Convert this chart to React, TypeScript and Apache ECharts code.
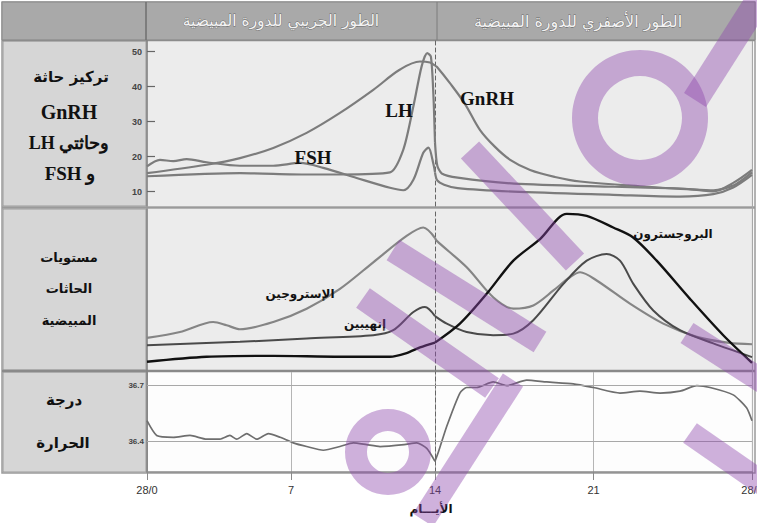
import React, { useEffect, useRef } from "react";
import * as echarts from "echarts";

type Pt = [number, number];

// ---- tick labels ----
const X_TICK_LABELS: Record<string, string> = { "0": "28/0", "7": "7", "14": "14", "21": "21", "28": "28/0" };
const HORMONE_TICKS = [10, 20, 30, 40, 50];
const TEMP_TICKS = [36.4, 36.7];

// ---- panel 1: GnRH, LH, FSH (follicular days 0-14, luteal days 14-28) ----
const GNRH_FOLLICULAR: Pt[] = [[0, 15.3], [2.9, 17.7], [4.52, 19.6], [6.14, 22.5], [7.76, 26.8], [9.38, 32.5], [11.0, 39.1], [12.3, 44.9], [13.27, 47.2], [13.76, 46.9], [14, 46.0]];
const GNRH_LUTEAL: Pt[] = [[14, 46.0], [14.08, 45.7], [14.66, 41.0], [15.32, 35.1], [15.99, 27.6], [16.65, 22.8], [17.32, 19.1], [18.2, 16.2], [19.3, 14.2], [20.41, 12.9], [23.35, 11.4], [25.56, 10.5], [26.28, 10.1], [27.17, 12.5], [28, 16.2]];
const LH_FOLLICULAR: Pt[] = [[0, 14.4], [4.52, 15.3], [7.76, 14.9], [9.38, 14.9], [11.81, 15.5], [12.46, 22.0], [12.95, 34.4], [13.35, 45.8], [13.62, 49.6], [13.8, 48.6], [13.92, 38.0], [14, 24.0]];
const LH_LUTEAL: Pt[] = [[14, 24.0], [14.1, 17.5], [14.3, 15.2], [15.0, 14.0], [17.5, 12.3], [21.9, 11.4], [24.8, 10.9], [26.3, 10.4], [27.2, 11.8], [28, 15.5]];
const FSH_FOLLICULAR: Pt[] = [[0, 17.2], [0.63, 19.1], [1.28, 18.7], [1.93, 19.3], [2.9, 18.4], [4.52, 17.4], [6.14, 17.4], [7.44, 18.2], [8.57, 16.8], [10.19, 13.9], [11.81, 11.1], [12.46, 10.4], [12.95, 13.4], [13.43, 21.1], [13.68, 22.6], [13.92, 18.0], [14, 15.5]];
const FSH_LUTEAL: Pt[] = [[14, 15.5], [14.1, 13.2], [14.4, 12.0], [15.0, 11.0], [17.46, 10.0], [21.87, 9.1], [24.82, 8.6], [26.29, 9.3], [27.17, 11.2], [28, 14.8]];

// ---- panel 2: ovarian hormones (relative levels 0-100) ----
const ESTROGEN_FOLLICULAR: Pt[] = [[0, 19.9], [1.6, 23.6], [3.22, 29.8], [3.87, 27.8], [4.52, 25.3], [6.14, 29.8], [7.76, 38.1], [9.38, 50.4], [11.0, 66.9], [12.62, 83.3], [13.43, 88.5], [14, 82.0]];
const ESTROGEN_LUTEAL: Pt[] = [[14, 82.0], [14.08, 80.2], [15.4, 63.8], [16.57, 45.2], [17.46, 38.1], [18.34, 40.1], [19.23, 49.4], [19.96, 57.6], [20.41, 60.7], [21.14, 55.6], [22.61, 41.2], [24.08, 28.8], [25.56, 20.6], [27.0, 16.8], [28, 16.0]];
const INHIBIN_FOLLICULAR: Pt[] = [[0, 15.4], [4.52, 17.5], [7.76, 19.6], [11.0, 21.6], [11.97, 24.7], [12.95, 36.0], [13.51, 39.1], [14, 33.5]];
const INHIBIN_LUTEAL: Pt[] = [[14, 33.5], [14.52, 28.8], [15.4, 23.6], [16.57, 21.6], [17.46, 22.6], [18.34, 30.9], [19.67, 53.5], [20.7, 67.9], [21.58, 72.0], [22.17, 67.9], [22.76, 53.5], [23.64, 37.0], [24.82, 24.7], [26.29, 16.5], [28, 8.0]];
const PROGESTERONE_FOLLICULAR: Pt[] = [[0, 5.1], [2.9, 8.2], [6.14, 8.8], [9.38, 8.2], [11.81, 8.2], [12.62, 10.5], [13.27, 14.0], [14, 17.0]];
const PROGESTERONE_LUTEAL: Pt[] = [[14, 17.0], [15.1, 28.8], [16.28, 47.3], [17.46, 67.9], [18.64, 81.3], [19.82, 97.0], [20.7, 95.7], [21.87, 88.5], [22.75, 82.3], [23.79, 67.9], [25.26, 44.2], [26.73, 21.6], [28, 4.5]];

// ---- panel 3: body temperature ----
const TEMP_FOLLICULAR: Pt[] = [[0, 36.51], [0.47, 36.43], [1.28, 36.42], [2.09, 36.43], [2.9, 36.41], [3.55, 36.41], [4.03, 36.43], [4.36, 36.41], [4.85, 36.44], [5.33, 36.41], [5.9, 36.44], [6.47, 36.42], [7.11, 36.39], [7.76, 36.37], [8.57, 36.35], [9.38, 36.37], [10.03, 36.39], [10.68, 36.38], [11.33, 36.37], [12.5, 36.38], [13.11, 36.39], [13.6, 36.36], [14, 36.29]];
const TEMP_LUTEAL: Pt[] = [[14, 36.29], [14.15, 36.34], [14.52, 36.48], [15.1, 36.66], [15.4, 36.69], [15.84, 36.69], [16.57, 36.72], [17.17, 36.7], [18.05, 36.73], [18.93, 36.72], [20.11, 36.71], [21, 36.69], [22.17, 36.66], [23.05, 36.67], [23.94, 36.66], [24.82, 36.67], [25.56, 36.7], [26.15, 36.69], [27.17, 36.65], [27.76, 36.58], [28, 36.51]];

const AR = "'DejaVu Sans', sans-serif";
const SERIF = "'Liberation Serif', 'DejaVu Serif', serif";
const SANS = "'Liberation Sans', Arial, sans-serif";

const X0 = 147, X14 = 435, X28 = 752;
const PANELS = [
  { top: 41, height: 165 },
  { top: 209, height: 161 },
  { top: 372, height: 100 },
];

function buildOption(): any {
  const grids: any[] = [];
  PANELS.forEach((p) => {
    grids.push({ left: X0, top: p.top, width: X14 - X0, height: p.height, show: false });
    grids.push({ left: X14, top: p.top, width: X28 - X14, height: p.height, show: false });
  });

  const xAxes: any[] = [];
  for (let i = 0; i < 6; i++) {
    const left = i % 2 === 0;
    const isTemp = i >= 4;
    xAxes.push({
      type: "value",
      gridIndex: i,
      min: left ? 0 : 14,
      max: left ? 14 : 28,
      interval: 7,
      axisLine: { show: isTemp, lineStyle: { color: "#8a8a8a", width: 1.5 } },
      axisTick: { show: isTemp, length: 8, lineStyle: { color: "#8a8a8a" } },
      axisLabel: {
        show: isTemp,
        margin: 12,
        fontSize: 11,
        fontFamily: SANS,
        color: "#333",
        showMinLabel: true,
        showMaxLabel: true,
        alignMinLabel: "center",
        alignMaxLabel: "center",
        hideOverlap: false,
        formatter: (v: number) => (left && v === 14 ? "" : X_TICK_LABELS[String(v)] || ""),
      },
      splitLine: { show: isTemp, lineStyle: { color: "#b5b5b5", width: 1 } },
    });
  }

  const yRanges = [
    { min: 5.9, max: 53.06 },
    { min: 0, max: 100 },
    { min: 36.232, max: 36.774 },
  ];
  const yAxes: any[] = [];
  for (let i = 0; i < 6; i++) {
    const left = i % 2 === 0;
    const panel = Math.floor(i / 2);
    const r = yRanges[panel];
    const ticks = panel === 0 ? HORMONE_TICKS : panel === 2 ? TEMP_TICKS : [];
    yAxes.push({
      type: "value",
      gridIndex: i,
      min: r.min,
      max: r.max,
      axisLine: {
        show: true,
        lineStyle: left ? { color: "#7a7a7a", width: 1.5 } : { color: "#666", width: 1, type: [4, 3] },
      },
      axisTick: {
        show: left && panel === 0,
        inside: true,
        length: 8,
        customValues: ticks,
        lineStyle: { color: "#666", width: 1.2 },
      },
      axisLabel: {
        show: left && ticks.length > 0,
        customValues: ticks,
        margin: panel === 0 ? 5 : 3,
        fontSize: panel === 0 ? 9 : 8,
        fontWeight: "bold",
        fontFamily: SANS,
        color: "#444",
        formatter: (v: number) => (panel === 2 ? v.toFixed(1) : String(v)),
      },
      splitLine: { show: false },
    });
  }

  const line = (name: string, data: Pt[], g: number, color: string, width: number, smooth: number | boolean = 0.35, extra: any = {}) => ({
    type: "line",
    name,
    data,
    xAxisIndex: g,
    yAxisIndex: g,
    symbol: "none",
    showSymbol: false,
    smooth,
    clip: false,
    silent: true,
    z: 3,
    lineStyle: { color, width },
    ...extra,
  });

  const HG = "#7c7c7c";
  const tempMark = {
    markLine: {
      silent: true,
      symbol: "none",
      label: { show: false },
      lineStyle: { color: "#a8a8a8", width: 1, type: "solid" },
      data: TEMP_TICKS.map((t) => ({ yAxis: t })),
    },
  };

  const series = [
    line("GnRH", GNRH_FOLLICULAR, 0, HG, 2.2),
    line("GnRH", GNRH_LUTEAL, 1, HG, 2.2),
    line("LH", LH_FOLLICULAR, 0, HG, 2.2, 0.25),
    line("LH", LH_LUTEAL, 1, HG, 2.2, 0.25),
    line("FSH", FSH_FOLLICULAR, 0, HG, 2.2, 0.3),
    line("FSH", FSH_LUTEAL, 1, HG, 2.2, 0.3),
    line("الإستروجين", ESTROGEN_FOLLICULAR, 2, "#858585", 2.2, 0.3),
    line("الإستروجين", ESTROGEN_LUTEAL, 3, "#858585", 2.2, 0.3),
    line("إنهيبين", INHIBIN_FOLLICULAR, 2, "#4a4a4a", 2, 0.3),
    line("إنهيبين", INHIBIN_LUTEAL, 3, "#4a4a4a", 2, 0.3),
    line("البروجسترون", PROGESTERONE_FOLLICULAR, 2, "#111", 2.4, 0.3),
    line("البروجسترون", PROGESTERONE_LUTEAL, 3, "#111", 2.4, 0.3),
    line("درجة الحرارة", TEMP_FOLLICULAR, 4, "#6e6e6e", 1.7, 0.2, tempMark),
    line("درجة الحرارة", TEMP_LUTEAL, 5, "#6e6e6e", 1.7, 0.2, tempMark),
  ];

  const txt = (text: string, x: number, y: number, size: number, font: string, extra: any = {}) => ({
    type: "text",
    x,
    y,
    z: 50,
    silent: true,
    style: {
      text,
      fontSize: size,
      fontFamily: font,
      fontWeight: "bold",
      fill: "#111",
      align: "center",
      verticalAlign: "middle",
      ...extra,
    },
  });
  const rect = (x: number, y: number, w: number, h: number, fill: string, stroke?: string, lw = 1) => ({
    type: "rect",
    z: -5,
    silent: true,
    shape: { x, y, width: w, height: h },
    style: { fill, stroke: stroke || "none", lineWidth: lw },
  });
  const hline = (x1: number, y1: number, x2: number, y2: number, stroke: string, lw: number, z = -4) => ({
    type: "line",
    z,
    silent: true,
    shape: { x1, y1, x2, y2 },
    style: { stroke, lineWidth: lw },
  });

  const WM = "rgba(140, 70, 172, 0.42)";
  const band = (x1: number, y1: number, x2: number, y2: number, w = 25) => ({
    type: "line",
    z: 100,
    silent: true,
    shape: { x1, y1, x2, y2 },
    style: { stroke: WM, lineWidth: w, lineCap: "butt" },
  });
  const ring = (cx: number, cy: number, r: number, w: number) => ({
    type: "ring",
    z: 100,
    silent: true,
    shape: { cx, cy, r: r + w / 2, r0: r - w / 2 },
    style: { fill: WM },
  });

  const headerStyle = { fill: "#f3f3f3", stroke: "#6a6a6a", lineWidth: 0.8, fontWeight: "normal" };

  const graphic = [
    // frame and backgrounds
    rect(0, 0, 790, 523, "#ffffff"),
    rect(2, 2, 753, 471, "#ffffff", "#9a9a9a", 1.5),
    rect(2, 2, 753, 38, "#a9a9a9", "#8a8a8a", 1),
    rect(3, 41, 143, 165, "#d6d6d6", "#9c9c9c", 1),
    rect(3, 209, 143, 161, "#d6d6d6", "#9c9c9c", 1),
    rect(3, 372, 143, 100, "#d6d6d6", "#9c9c9c", 1),
    rect(X0, 41, X28 - X0, 165, "#ececec"),
    rect(X0, 209, X28 - X0, 161, "#ececec"),
    rect(X0, 372, X28 - X0, 100, "#fdfdfd"),
    hline(2, 40.5, 755, 40.5, "#8c8c8c", 1.5),
    hline(2, 207.5, 755, 207.5, "#9a9a9a", 2.5),
    hline(2, 371, 755, 371, "#8a8a8a", 2.5),
    hline(X28 + 0.5, 41, X28 + 0.5, 472, "#a8a8a8", 1.2),
    hline(146, 2, 146, 40, "#6f6f6f", 1.5),
    hline(437, 2, 437, 40, "#7c7c7c", 1),
    // header texts
    txt("الطور الجريبي للدورة المبيضية", 281, 21, 15.5, AR, headerStyle),
    txt("الطور الأصفري للدورة المبيضية", 578, 21, 16, AR, headerStyle),
    // row labels
    txt("تركيز حاثة", 71, 77, 15, AR),
    txt("GnRH", 69, 112, 20, SERIF),
    txt("\u202Bوحاثتي LH\u202C", 69, 143, 18, SERIF),
    txt("\u202Bو FSH\u202C", 70, 173, 19, SERIF),
    txt("مستويات", 69, 257, 13, AR),
    txt("الحاثات", 69, 288, 13, AR),
    txt("المبيضية", 69, 320, 13, AR),
    txt("درجة", 64, 400, 15, AR),
    txt("الحرارة", 63, 443, 15, AR),
    // curve labels
    txt("LH", 399, 110, 19, SERIF),
    txt("FSH", 313, 157, 19, SERIF),
    txt("GnRH", 487, 98, 19, SERIF),
    txt("الإستروجين", 300, 294, 12, AR),
    txt("إنهيبين", 365, 324, 12, AR),
    txt("البروجسترون", 673, 234, 12, AR),
    txt("الأيـــام", 431, 509, 12, AR),
    // watermark
    band(470, 150, 575, 262),
    band(393, 250, 540, 342, 24),
    band(363, 298, 492, 388, 24),
    band(687, 333, 765, 383, 24),
    band(690, 433, 765, 485, 24),
    band(423, 520, 513, 380, 24),
    band(765, -10, 695, 100, 26),
    ring(640, 118, 55, 26),
    ring(388, 452, 32, 22),
  ];

  return {
    animation: false,
    backgroundColor: "#ffffff",
    grid: grids,
    xAxis: xAxes,
    yAxis: yAxes,
    series,
    graphic: { elements: graphic },
  };
}

export default function App() {
  const ref = useRef<HTMLDivElement | null>(null);
  useEffect(() => {
    if (!ref.current) return;
    const prevHtml = document.documentElement.style.overflow;
    const prevBody = document.body.style.overflow;
    document.documentElement.style.overflow = "hidden";
    document.body.style.overflow = "hidden";
    const chart = echarts.init(ref.current, undefined, { renderer: "svg" });
    chart.setOption(buildOption());
    return () => {
      chart.dispose();
      document.documentElement.style.overflow = prevHtml;
      document.body.style.overflow = prevBody;
    };
  }, []);
  return <div ref={ref} style={{ position: "absolute", left: 0, top: 0, width: 790, height: 523 }} />;
}
